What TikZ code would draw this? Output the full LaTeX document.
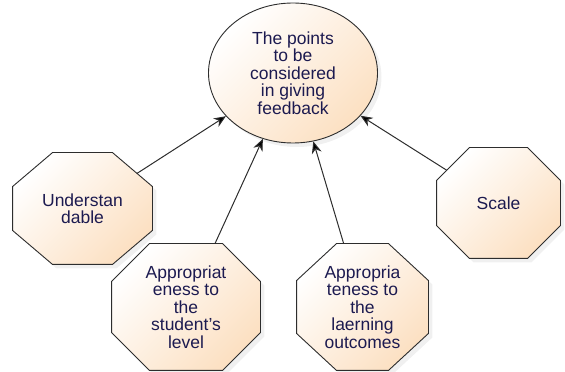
\documentclass[tikz,border=0pt]{standalone}
\usepackage{fontspec}
\setmainfont{Liberation Sans}
\usetikzlibrary{shapes.geometric,arrows.meta,shadows}
\definecolor{peach}{RGB}{252,224,194}
\definecolor{inkblue}{RGB}{28,26,80}
\definecolor{edgegray}{RGB}{45,45,45}

% octagon with its own corner cuts
\makeatletter
\pgfkeys{/pgf/oct cut x/.initial=30pt, /pgf/oct cut y/.initial=30pt}
\pgfdeclareshape{octbox}{%
  \inheritsavedanchors[from=rectangle]
  \inheritanchor[from=rectangle]{center}
  \inheritanchor[from=rectangle]{text}
  \inheritanchor[from=rectangle]{north}
  \inheritanchor[from=rectangle]{south}
  \inheritanchor[from=rectangle]{east}
  \inheritanchor[from=rectangle]{west}
  \savedanchor\octcut{%
    \pgfmathsetlength\pgf@x{\pgfkeysvalueof{/pgf/oct cut x}}%
    \pgfmathsetlength\pgf@y{\pgfkeysvalueof{/pgf/oct cut y}}%
  }
  \backgroundpath{%
    \southwest \edef\oct@l{\the\pgf@x}\edef\oct@b{\the\pgf@y}%
    \northeast \edef\oct@r{\the\pgf@x}\edef\oct@t{\the\pgf@y}%
    \octcut \edef\oct@cx{\the\pgf@x}\edef\oct@cy{\the\pgf@y}%
    \pgfpathmoveto{\pgfpointadd{\pgfqpoint{\oct@l}{\oct@b}}{\pgfqpoint{\oct@cx}{0pt}}}%
    \pgfpathlineto{\pgfpointadd{\pgfqpoint{\oct@r}{\oct@b}}{\pgfqpoint{-\oct@cx}{0pt}}}%
    \pgfpathlineto{\pgfpointadd{\pgfqpoint{\oct@r}{\oct@b}}{\pgfqpoint{0pt}{\oct@cy}}}%
    \pgfpathlineto{\pgfpointadd{\pgfqpoint{\oct@r}{\oct@t}}{\pgfqpoint{0pt}{-\oct@cy}}}%
    \pgfpathlineto{\pgfpointadd{\pgfqpoint{\oct@r}{\oct@t}}{\pgfqpoint{-\oct@cx}{0pt}}}%
    \pgfpathlineto{\pgfpointadd{\pgfqpoint{\oct@l}{\oct@t}}{\pgfqpoint{\oct@cx}{0pt}}}%
    \pgfpathlineto{\pgfpointadd{\pgfqpoint{\oct@l}{\oct@t}}{\pgfqpoint{0pt}{-\oct@cy}}}%
    \pgfpathlineto{\pgfpointadd{\pgfqpoint{\oct@l}{\oct@b}}{\pgfqpoint{0pt}{\oct@cy}}}%
    \pgfpathclose
  }
  \anchorborder{%
    \edef\oct@dx{\the\pgf@x}\edef\oct@dy{\the\pgf@y}%
    \southwest \edef\oct@l{\the\pgf@x}\edef\oct@b{\the\pgf@y}%
    \northeast \edef\oct@r{\the\pgf@x}\edef\oct@t{\the\pgf@y}%
    \octcut \edef\oct@cx{\the\pgf@x}\edef\oct@cy{\the\pgf@y}%
    \pgfmathsetmacro\oct@ha{(\oct@r-\oct@l)/2}%
    \pgfmathsetmacro\oct@hb{(\oct@t-\oct@b)/2}%
    \pgfmathsetmacro\oct@mx{(\oct@r+\oct@l)/2}%
    \pgfmathsetmacro\oct@my{(\oct@t+\oct@b)/2}%
    \pgfmathsetmacro\oct@len{max(veclen(\oct@dx,\oct@dy),0.001)}%
    \pgfmathsetmacro\oct@ux{max(abs(\oct@dx)/\oct@len,0.01)}%
    \pgfmathsetmacro\oct@uy{max(abs(\oct@dy)/\oct@len,0.01)}%
    \pgfmathsetmacro\oct@s{min(\oct@ha/\oct@ux,\oct@hb/\oct@uy,(\oct@cy*\oct@ha+\oct@cx*\oct@hb-\oct@cx*\oct@cy)/(\oct@cy*\oct@ux+\oct@cx*\oct@uy))}%
    \pgfmathsetmacro\oct@px{sign(\oct@dx)*\oct@s*\oct@ux+\oct@mx}%
    \pgfmathsetmacro\oct@py{sign(\oct@dy)*\oct@s*\oct@uy+\oct@my}%
    \pgfqpoint{\oct@px pt}{\oct@py pt}%
  }
}
\makeatother

\begin{document}
\begin{tikzpicture}[x=1pt, y=1pt,
	box/.style={draw=edgegray, line width=0.9pt, top color=white, bottom color=peach, shading angle=45,
		text=inkblue, align=center, inner sep=0pt, font=\fontsize{17.5}{17.5}\selectfont,
		drop shadow={opacity=0.12, shadow xshift=4pt, shadow yshift=-4pt}},
	octa/.style={box, shape=octbox},
	pointer/.style={-{Stealth[length=12pt, width=10pt]}, draw=edgegray, line width=1pt}]
	\useasboundingbox (0,0) rectangle (565,372);

	\node[box, ellipse, minimum width=169pt, minimum height=140pt] (fb) at (293, 299) {The points\\to be\\considered\\in giving\\feedback};

	\node[octa, minimum width=139pt, minimum height=111pt, oct cut x=40pt, oct cut y=34pt] (und) at (82.5, 163.5) {Understan\\dable};
	\node[octa, minimum width=148pt, minimum height=126pt, oct cut x=38pt, oct cut y=38pt] (lvl) at (186, 65) {Appropriat\\eness to\\the\\student{\char"27}s\\level};
	\node[octa, minimum width=131pt, minimum height=126pt, oct cut x=40pt, oct cut y=37pt] (out) at (362.5, 65) {Appropria\\teness to\\the\\laerning\\outcomes};
	\node[octa, minimum width=123pt, minimum height=110pt, oct cut x=33pt, oct cut y=33pt] (sc) at (498.5, 169) {Scale};

	\path[pointer] (und) edge (fb);
	\path[pointer] (lvl) edge (fb);
	\path[pointer] (out) edge (fb);
	\path[pointer] (sc) edge (fb);
\end{tikzpicture}
\end{document}
